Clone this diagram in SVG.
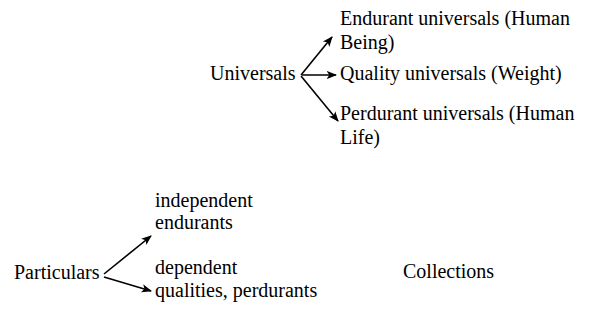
<svg xmlns="http://www.w3.org/2000/svg" width="596" height="333" viewBox="0 0 596 333">
  <style>
    .lbl { font-size: 20px; fill: #000; }
    .edge { stroke: #000; stroke-width: 1.6; fill: none; marker-end: url(#arrow); }
  </style>
  <defs>
    <marker id="arrow" viewBox="0 0 10 10" refX="9" refY="5" markerWidth="6.5" markerHeight="6.5" orient="auto" markerUnits="strokeWidth">
      <path d="M0,1 L10,5 L0,9 L2.5,5 Z" fill="#000"/>
    </marker>
  </defs>

  <rect width="596" height="333" fill="#fff"/>

  <g id="connectors">
    <line class="edge" x1="301" y1="75" x2="332" y2="37"/>
    <line class="edge" x1="302" y1="75" x2="336" y2="75"/>
    <line class="edge" x1="301" y1="76" x2="338" y2="121"/>
    <line class="edge" x1="104" y1="274" x2="151" y2="236"/>
    <line class="edge" x1="104" y1="277" x2="151" y2="291"/>
  </g>

  <g class="lbl" font-family="'Liberation Serif', 'Times New Roman', Times, serif">
    <g id="universals"><text x="210" y="80">Universals</text></g>
    <g id="endurant-universals">
      <text x="340" y="25">Endurant universals (Human</text>
      <text x="340" y="49">Being)</text>
    </g>
    <g id="quality-universals"><text x="340" y="80">Quality universals (Weight)</text></g>
    <g id="perdurant-universals">
      <text x="340" y="120">Perdurant universals (Human</text>
      <text x="340" y="144">Life)</text>
    </g>

    <g id="particulars"><text x="14" y="279">Particulars</text></g>
    <g id="independent">
      <text x="155" y="207">independent</text>
      <text x="155" y="229">endurants</text>
    </g>
    <g id="dependent">
      <text x="155" y="274">dependent</text>
      <text x="155" y="297">qualities, perdurants</text>
    </g>
    <g id="collections"><text x="403" y="278">Collections</text></g>
  </g>
</svg>
